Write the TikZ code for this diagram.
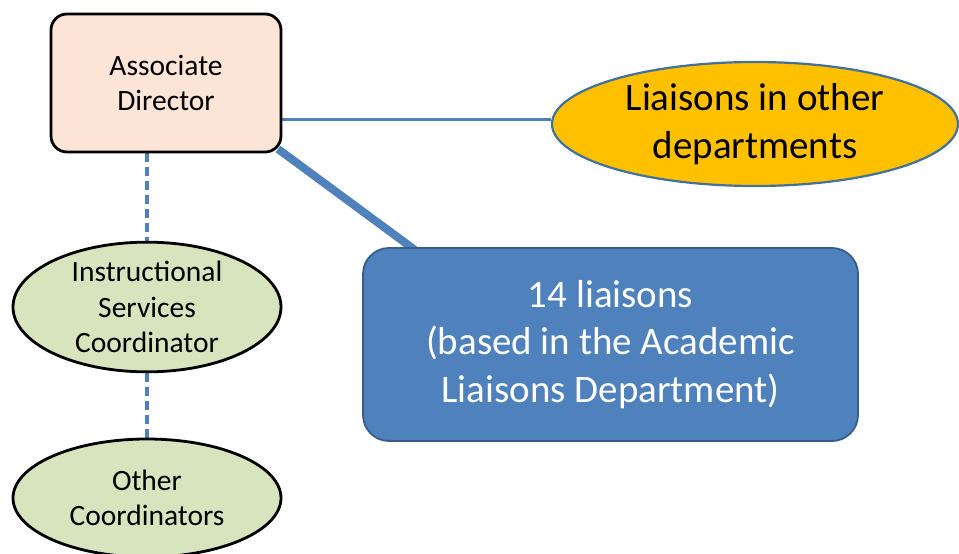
\documentclass[tikz,border=0pt]{standalone}
\usepackage{fontspec}
\setmainfont{Carlito}
\usetikzlibrary{backgrounds,shapes.geometric}
\definecolor{peach}{RGB}{252,228,214}
\definecolor{lgreen}{RGB}{215,228,189}
\definecolor{gold}{RGB}{255,192,0}
\definecolor{lineblue}{RGB}{79,129,189}
\definecolor{edgeblue}{RGB}{65,113,156}
\definecolor{boxblue}{RGB}{79,129,189}
\definecolor{boxedge}{RGB}{56,93,138}
\tikzset{
  smalltext/.style={font=\fontsize{29.5}{35.5}\selectfont, align=center},
  bigtext/.style={font=\fontsize{39}{47.5}\selectfont, align=center},
  adbox/.style={draw=black, line width=2.8pt, fill=peach, rounded corners=16pt, inner sep=0pt, smalltext},
  coord/.style={ellipse, draw=black, line width=2.8pt, fill=lgreen, inner sep=0pt, smalltext},
  liais/.style={ellipse, draw=edgeblue, line width=2.2pt, fill=gold, inner sep=0pt, bigtext},
  bluebox/.style={draw=boxedge, line width=1.8pt, fill=boxblue, rounded corners=26pt, inner sep=0pt, bigtext, text=white},
  thinlink/.style={draw=lineblue, line width=3pt},
  thicklink/.style={draw=lineblue, line width=8pt},
  dashlink/.style={draw=lineblue, line width=3.2pt, dash pattern=on 9pt off 5pt}
}
\begin{document}
\begin{tikzpicture}[x=1pt,y=-1pt]
\useasboundingbox (0,0) rectangle (959,554);
\clip (0,0) rectangle (959,554);
\node[adbox, minimum width=230pt, minimum height=138pt] (ad) at (166,83) {Associate\\Director};
\node[coord, minimum width=268pt, minimum height=118pt] (isc) at (147,307) {Instructional\\Services\\Coordinator};
\node[coord, minimum width=268pt, minimum height=118pt] (oc) at (147,498) {Other\\Coordinators};
\node[liais, minimum width=406pt, minimum height=124pt] (lod) at (755,124) {Liaisons in other\\departments};
\node[bluebox, minimum width=495pt, minimum height=193pt] (lb) at (610.5,344.5) {14 liaisons\\(based in the Academic\\Liaisons Department)};
\coordinate (lbjoin) at (415,250);
\coordinate (adcorner) at (278,149);
\begin{scope}[on background layer]
\fill[white] (0,0) rectangle (959,554);
\draw[thinlink] (ad.east |- 0,119) -- (lod.west |- 0,119);
\draw[thicklink] (adcorner) -- (lbjoin);
\draw[dashlink] (ad.south -| isc.north) -- (isc.north);
\draw[dashlink] (isc.south) -- (oc.north);
\end{scope}
\end{tikzpicture}
\end{document}
